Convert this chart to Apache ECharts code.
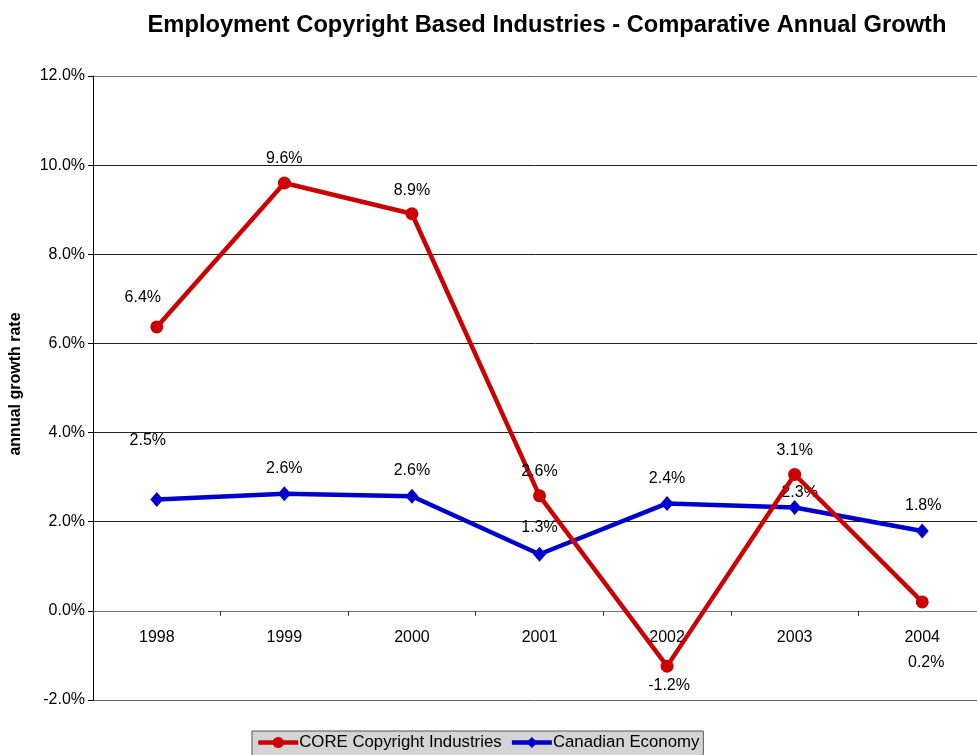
<!DOCTYPE html>
<html>
<head>
<meta charset="utf-8">
<title>Employment Copyright Based Industries - Comparative Annual Growth</title>
<script src="https://cdn.jsdelivr.net/npm/echarts@6/dist/echarts.min.js"></script>
<style>
  html, body { margin: 0; padding: 0; background: #fff; }
  #chart { width: 977px; height: 755px; }
</style>
</head>
<body>
<div id="chart"></div>
<script>
// Annual employment growth, percent
const years = ['1998', '1999', '2000', '2001', '2002', '2003', '2004'];
const coreCopyright = [6.37, 9.60, 8.91, 2.58, -1.24, 3.06, 0.20];
const canadianEconomy = [2.50, 2.63, 2.57, 1.27, 2.41, 2.32, 1.79];
const seriesNames = ['CORE Copyright Industries', 'Canadian Economy'];
const yTicks = { min: -2, max: 12, step: 2 };

// Label nudges (px) for labels moved off their default spot above the point
const coreLabelNudge = [[-14, -5], [0, 0], [0, 1], [0, 0], [2, 44], [0, 1], [4, 85]];
const canadaLabelNudge = [[-9, -33], [0, 0], [0, 0], [0, -1], [0, 1], [5, 11], [1, 0]];

const FONT = '"Liberation Sans", Arial, Helvetica, sans-serif';
const RED = '#cc0000';
const BLUE = '#0000cc';

function withLabels(values, nudges) {
  return values.map((v, i) => ({
    value: v,
    label: { offset: nudges[i] }
  }));
}

const chart = echarts.init(document.getElementById('chart'), null, { renderer: 'canvas' });

const labelStyle = {
  show: true,
  position: 'top',
  distance: 10,
  color: '#000',
  fontFamily: FONT,
  fontSize: 16,
  formatter: p => p.value.toFixed(1) + '%'
};

chart.setOption({
  animation: false,
  backgroundColor: '#fff',
  title: {
    text: 'Employment Copyright Based Industries - Comparative Annual Growth',
    left: 542,
    textAlign: 'center',
    top: 8,
    textStyle: { fontFamily: FONT, fontWeight: 'bold', fontSize: 23.7, color: '#000' }
  },
  legend: {
    data: seriesNames,
    left: 252,
    top: 731,
    orient: 'horizontal',
    backgroundColor: '#d4d4d4',
    borderColor: '#555',
    borderWidth: 1,
    borderRadius: 0,
    padding: [3, 4, 8, 4],
    itemWidth: 40,
    itemHeight: 14,
    itemGap: 8,
    lineStyle: { width: 4.5 },
    textStyle: { fontFamily: FONT, fontSize: 16.8, color: '#000', padding: [0, 0, 0, -4] }
  },
  // plot area runs a little past the right edge of the canvas
  grid: {
    left: 93, width: 893, top: 76, bottom: 55,
    containLabel: false,
    outerBoundsMode: 'none'
  },
  xAxis: {
    type: 'category',
    data: years,
    boundaryGap: true,
    axisLine: { show: true, onZero: true, lineStyle: { color: '#777', width: 1 } },
    axisTick: { show: true, alignWithLabel: false, length: 5, lineStyle: { color: '#333' } },
    // year labels sit just under the zero line
    axisLabel: { color: '#000', fontFamily: FONT, fontSize: 16, margin: -70 },
    splitLine: { show: false }
  },
  yAxis: {
    type: 'value',
    min: yTicks.min,
    max: yTicks.max,
    interval: yTicks.step,
    name: 'annual growth rate',
    nameLocation: 'middle',
    nameGap: 69,
    nameTextStyle: { fontFamily: FONT, fontWeight: 'bold', fontSize: 16, color: '#000', padding: [0, 0, 0, 8] },
    axisLine: { show: true, lineStyle: { color: '#000', width: 1 } },
    axisTick: { show: true, length: 5, lineStyle: { color: '#000' } },
    axisLabel: {
      color: '#000', fontFamily: FONT, fontSize: 16, margin: 8,
      formatter: v => v.toFixed(1) + '%'
    },
    splitLine: {
      show: true,
      lineStyle: { color: ['#666', '#222', '#222', '#222', '#222', '#222', '#222', '#777'], width: 1 }
    }
  },
  series: [
    {
      name: seriesNames[0],
      type: 'line',
      z: 3,
      data: withLabels(coreCopyright, coreLabelNudge),
      symbol: 'circle',
      symbolSize: 13,
      itemStyle: { color: RED },
      lineStyle: { color: RED, width: 4.5 },
      label: labelStyle
    },
    {
      name: seriesNames[1],
      type: 'line',
      z: 2,
      data: withLabels(canadianEconomy, canadaLabelNudge),
      symbol: 'diamond',
      symbolSize: [13, 15],
      itemStyle: { color: BLUE },
      lineStyle: { color: BLUE, width: 4.5 },
      label: labelStyle
    }
  ]
});
</script>
</body>
</html>
